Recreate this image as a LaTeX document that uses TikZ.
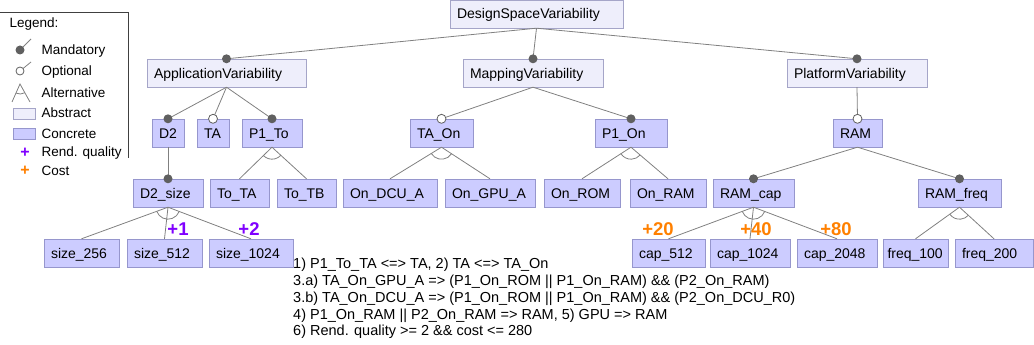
\documentclass[tikz,border=0pt]{standalone}
\usepackage{fontspec}
\setmainfont{Liberation Sans}
\usetikzlibrary{calc}

\definecolor{edgegray}{RGB}{128,128,128}
\definecolor{dotgray}{RGB}{96,96,96}
\definecolor{concfill}{RGB}{204,204,255}
\definecolor{concline}{RGB}{150,150,205}
\definecolor{absfill}{RGB}{238,238,251}
\definecolor{absline}{RGB}{165,165,200}
\definecolor{qualcol}{RGB}{128,0,255}
\definecolor{costcol}{RGB}{255,128,0}

\newcommand{\altarc}[3]{%
  \draw[edge] let \p0=(#1.south), \p1=($(#2.north)-(#1.south)$), \p2=($(#3.north)-(#1.south)$),
    \n1={atan2(\y1,\x1)}, \n2={atan2(\y2,\x2)} in
    ($(\p0)+(\n1:12pt)$) arc[start angle=\n1, end angle=\n2, radius=12pt];}

\begin{document}
\begin{tikzpicture}[x=1pt, y=1pt]

\tikzstyle{every node} = [font=\fontsize{14pt}{16pt}\selectfont]
\tikzstyle{feat} = [rectangle, minimum height=28pt, inner xsep=7pt, inner ysep=0pt, align=left, text height=11pt, text depth=1pt]
\tikzstyle{abst} = [feat, fill=absfill, draw=absline]
\tikzstyle{conc} = [feat, fill=concfill, draw=concline]
\tikzstyle{edge} = [draw=edgegray, line width=0.8pt]
\tikzstyle{mand} = [fill=dotgray]
\tikzstyle{opt} = [fill=white, draw=dotgray, line width=0.8pt]
\tikzstyle{qual} = [text=qualcol, font=\bfseries\fontsize{18.5pt}{20pt}\selectfont]
\tikzstyle{cost} = [text=costcol, font=\bfseries\fontsize{18.5pt}{20pt}\selectfont]
\tikzstyle{leg} = [anchor=west, font=\fontsize{13.5pt}{15pt}\selectfont]

\useasboundingbox (0,0) rectangle (1034,-345);

% legend
\draw[black!75, line width=0.8pt] (0,-12) -- (128,-12) -- (128,-158);
\node[leg] (lt) at (6,-24) {Legend:};
\node[leg] (lm) at (38,-51) {Mandatory};
\node[leg] (lo) at (38,-72) {Optional};
\node[leg] (la) at (38,-93) {Alternative};
\node[leg] (lab) at (38,-113) {Abstract};
\node[leg] (lc) at (38,-134) {Concrete};
\node[leg] (lq) at (38,-153) {Rend. quality};
\node[leg] (lk) at (38,-171) {Cost};
\draw[edgegray, line width=0.8pt] (20,-50) -- (31,-39);
\fill[mand] (20,-50) circle (4.5pt);
\draw[edgegray, line width=0.8pt] (20,-71) -- (31,-62);
\filldraw[opt] (20,-71) circle (4pt);
\draw[edgegray, line width=0.8pt] (12,-102) -- (20,-84) -- (30,-102);
\draw[edgegray, line width=0.8pt] ($(20,-84)+(-114:10pt)$) arc[start angle=-114, end angle=-61, radius=10pt];
\filldraw[fill=absfill, draw=absline] (13,-108) rectangle (35,-119);
\filldraw[fill=concfill, draw=concline] (13,-128) rectangle (35,-139);
\node[text=qualcol, font=\bfseries\fontsize{16pt}{16pt}\selectfont] (pq) at (25,-153) {+};
\node[text=costcol, font=\bfseries\fontsize{16pt}{16pt}\selectfont] (pk) at (25,-171) {+};

% features
\node[abst, text width=159pt] (dsv) at (536.5,-14) {DesignSpaceVariability};

\node[abst, text width=145pt] (app) at (226.5,-73) {ApplicationVariability};
\node[abst, text width=126pt] (map) at (533,-73) {MappingVariability};
\node[abst, text width=126pt] (plat) at (857,-73) {PlatformVariability};

\node[conc, text width=18pt] (d2) at (168,-133) {D2};
\node[conc, text width=18pt] (ta) at (213,-133) {TA};
\node[conc, text width=46pt] (p1to) at (272,-133) {P1\_To};
\node[conc, text width=49pt] (taon) at (441.5,-133) {TA\_On};
\node[conc, text width=58pt] (p1on) at (631,-133) {P1\_On};
\node[conc, text width=35pt] (ram) at (857.5,-133) {RAM};

\node[conc, text width=56pt] (d2size) at (168,-193) {D2\_size};
\node[conc, text width=45pt] (tota) at (239.5,-193) {To\_TA};
\node[conc, text width=45pt] (totb) at (306.5,-193) {To\_TB};
\node[conc, text width=80pt] (ondcu) at (390,-193) {On\_DCU\_A};
\node[conc, text width=76pt] (ongpu) at (490,-193) {On\_GPU\_A};
\node[conc, text width=62pt] (onrom) at (582,-193) {On\_ROM};
\node[conc, text width=62pt] (onram) at (668,-193) {On\_RAM};
\node[conc, text width=67pt] (ramcap) at (753.5,-193) {RAM\_cap};
\node[conc, text width=69pt] (ramfreq) at (959.5,-193) {RAM\_freq};

\node[conc, text width=61pt] (s256) at (81.5,-253) {size\_256};
\node[conc, text width=61pt] (s512) at (164.5,-253) {size\_512};
\node[conc, text width=70pt] (s1024) at (251,-253) {size\_1024};
\node[conc, text width=59pt] (c512) at (668.5,-253) {cap\_512};
\node[conc, text width=66pt] (c1024) at (750,-253) {cap\_1024};
\node[conc, text width=66pt] (c2048) at (837,-253) {cap\_2048};
\node[conc, text width=56pt, inner xsep=4.5pt] (f100) at (915.5,-253) {freq\_100};
\node[conc, text width=64pt] (f200) at (994,-253) {freq\_200};

% attributes
\node[qual] (q1) at (178,-229) {+1};
\node[qual] (q2) at (249,-229) {+2};
\node[cost] (k20) at (658,-229) {+20};
\node[cost] (k40) at (756,-229) {+40};
\node[cost] (k80) at (836,-229) {+80};

% edges
\draw[edge] (dsv.south) -- (app.north);
\draw[edge] (dsv.south) -- (map.north);
\draw[edge] (dsv.south) -- (plat.north);

\draw[edge] (app.south) -- (d2.north);
\draw[edge] (app.south) -- (ta.north);
\draw[edge] (app.south) -- (p1to.north);
\draw[edge] (map.south) -- (taon.north);
\draw[edge] (map.south) -- (p1on.north);
\draw[edge] (plat.south) -- (ram.north);

\draw[edge] (d2.south) -- (d2size.north);
\draw[edge] (p1to.south) -- (tota.north);
\draw[edge] (p1to.south) -- (totb.north);
\draw[edge] (taon.south) -- (ondcu.north);
\draw[edge] (taon.south) -- (ongpu.north);
\draw[edge] (p1on.south) -- (onrom.north);
\draw[edge] (p1on.south) -- (onram.north);
\draw[edge] (ram.south) -- (ramcap.north);
\draw[edge] (ram.south) -- (ramfreq.north);

\draw[edge] (d2size.south) -- (s256.north);
\draw[edge] (d2size.south) -- (s512.north);
\draw[edge] (d2size.south) -- (s1024.north);
\draw[edge] (ramcap.south) -- (c512.north);
\draw[edge] (ramcap.south) -- (c1024.north);
\draw[edge] (ramcap.south) -- (c2048.north);
\draw[edge] (ramfreq.south) -- (f100.north);
\draw[edge] (ramfreq.south) -- (f200.north);

\altarc{p1to}{tota}{totb}
\altarc{taon}{ondcu}{ongpu}
\altarc{p1on}{onrom}{onram}
\altarc{d2size}{s256}{s1024}
\altarc{ramcap}{c512}{c2048}
\altarc{ramfreq}{f100}{f200}

\foreach \n in {app,map,plat,d2,p1to,p1on,d2size,ramcap,ramfreq}
  \fill[mand] (\n.north) circle (4.5pt);
\foreach \n in {ta,taon,ram}
  \filldraw[opt] (\n.north) circle (4.5pt);

% constraints
\node[anchor=north west, align=left, inner sep=0pt, font=\fontsize{14.5pt}{16.8pt}\selectfont] (cons) at (293,-258)
  {1) P1\_To\_TA <=> TA, 2) TA <=> TA\_On\\
   3.a) TA\_On\_GPU\_A => (P1\_On\_ROM || P1\_On\_RAM) \&\& (P2\_On\_RAM)\\
   3.b) TA\_On\_DCU\_A => (P1\_On\_ROM || P1\_On\_RAM) \&\& (P2\_On\_DCU\_R0)\\
   4) P1\_On\_RAM || P2\_On\_RAM => RAM, 5) GPU => RAM\\
   6) Rend. quality >= 2 \&\& cost <= 280};
\end{tikzpicture}
\end{document}
